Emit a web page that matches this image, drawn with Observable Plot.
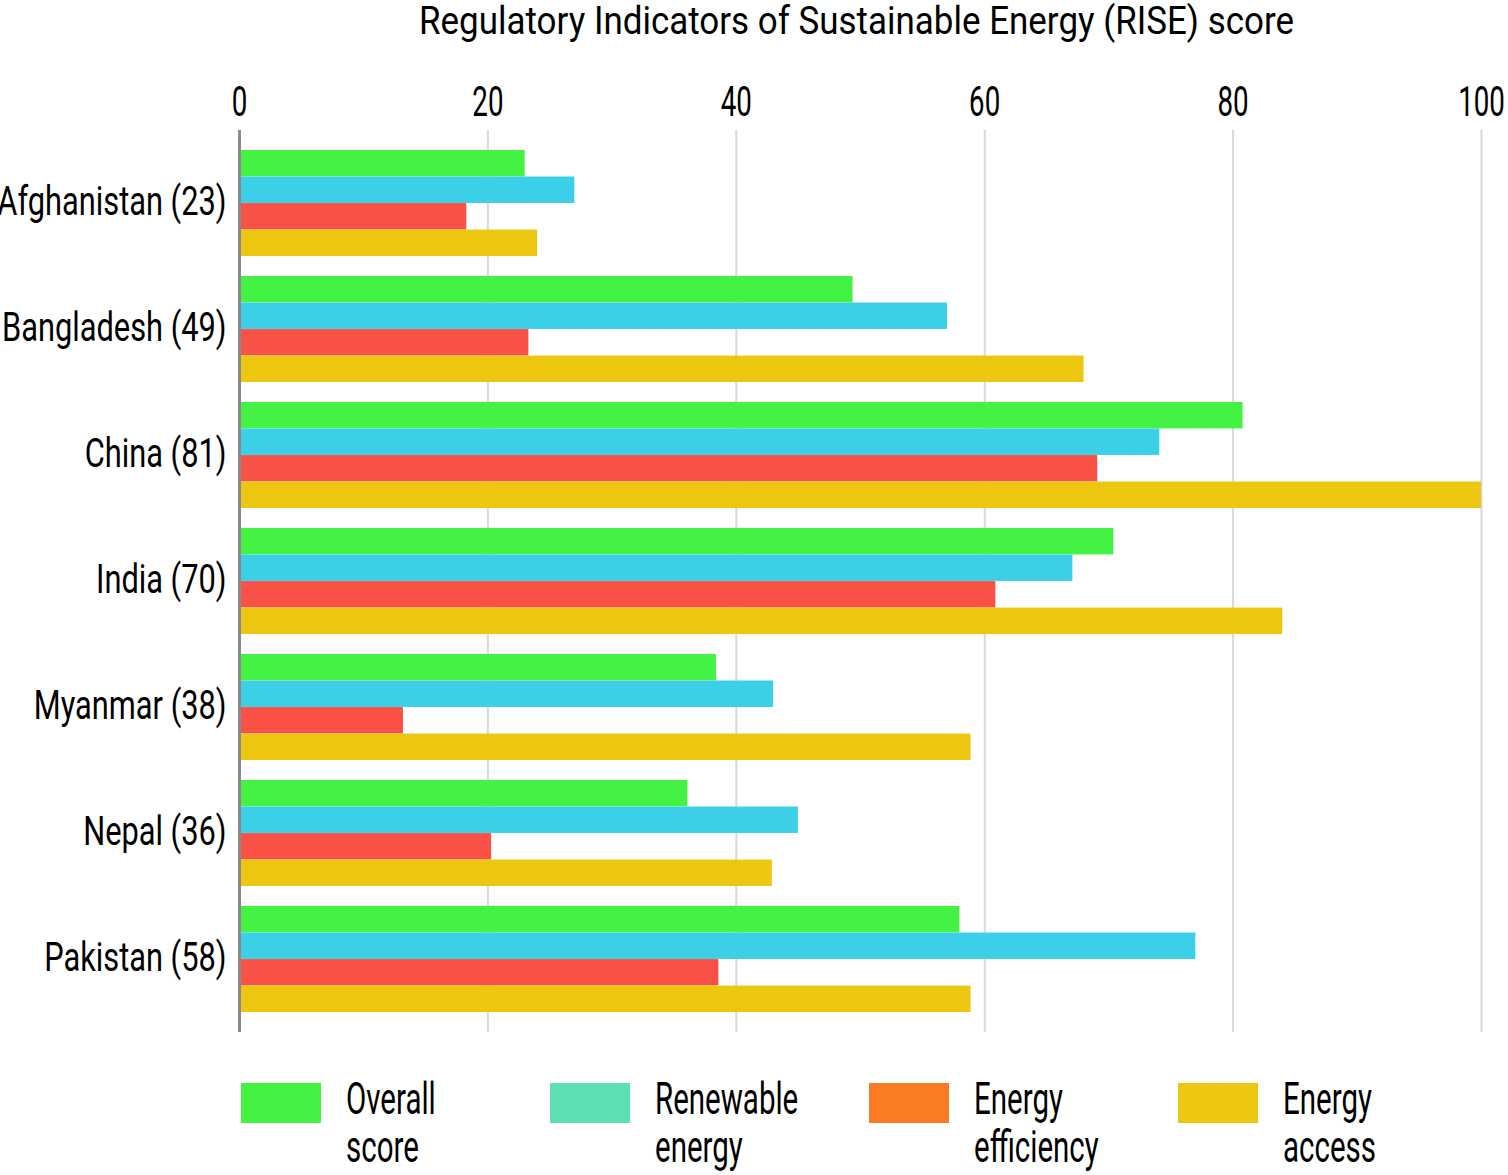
<!DOCTYPE html>
<html>
<head>
<meta charset="utf-8">
<script src="https://cdn.jsdelivr.net/npm/d3@7"></script>
<script src="https://cdn.jsdelivr.net/npm/@observablehq/plot@0.6"></script>
<style>
  body { margin: 0; background: #fff; font-family: Roboto, "Liberation Sans", sans-serif; }
  #chart { position: relative; width: 1508px; height: 1175px; }
  .legend-item { position: absolute; top: 1083px; }
  .sw { position: absolute; left: 0; top: 0; width: 80px; height: 40px; }
  .lt { position: absolute; left: 105px; top: -8px; font-size: 44px; line-height: 48px; color: #000; white-space: nowrap; transform: scaleX(0.67); transform-origin: 0 0; }
</style>
</head>
<body>
<div id="chart"></div>
<script>
const countries = ["Afghanistan", "Bangladesh", "China", "India", "Myanmar", "Nepal", "Pakistan"];
const countryLabels = ["Afghanistan (23)", "Bangladesh (49)", "China (81)", "India (70)", "Myanmar (38)", "Nepal (36)", "Pakistan (58)"];
const overall    = [23.0, 49.4, 80.8, 70.4, 38.4, 36.1, 58.0];
const renewable  = [27.0, 57.0, 74.1, 67.1, 43.0, 45.0, 77.0];
const efficiency = [18.3, 23.3, 69.1, 60.9, 13.2, 20.3, 38.6];
const access     = [24.0, 68.0, 100.0, 84.0, 58.9, 42.9, 58.9];
const seriesNames = ["Overall score", "Renewable energy", "Energy efficiency", "Energy access"];
const legendLines = [["Overall", "score"], ["Renewable", "energy"], ["Energy", "efficiency"], ["Energy", "access"]];
const barColors = ["#44f244", "#3ccfe8", "#f95145", "#ecc60f"];
const legendColors = ["#44f244", "#5ddfb5", "#f97b22", "#ecc60f"];
const xTicks = [0, 20, 40, 60, 80, 100];
const title = "Regulatory Indicators of Sustainable Energy (RISE) score";

const seriesValues = [overall, renewable, efficiency, access];
const rows = [];
seriesNames.forEach((s, si) => countries.forEach((c, ci) => rows.push({country: c, series: s, si, value: seriesValues[si][ci]})));

const W = 1508, H = 1050, mTop = 130, mBottom = 18;
const pIn = 0.16, pOut = 0.15;
const step = (H - mTop - mBottom) / (countries.length - pIn + 2 * pOut);
const bw = step * (1 - pIn);
const sub = bw / 4;

const marks = [
  Plot.gridX(xTicks, {stroke: "#d9d9d9", strokeOpacity: 1, strokeWidth: 2}),
];
seriesNames.forEach((s, si) => {
  marks.push(Plot.barX(rows.filter(d => d.si === si), {
    x: "value", y: "country", fill: barColors[si],
    insetTop: si * sub, insetBottom: (3 - si) * sub
  }));
});
marks.push(Plot.ruleX([0], {stroke: "#8a8a8a", strokeWidth: 3}));
marks.push(Plot.axisX({anchor: "top", ticks: xTicks, tickSize: 0, tickPadding: 15, fontSize: 42, label: null}));
marks.push(Plot.axisY({anchor: "left", tickSize: 0, tickPadding: 13, fontSize: 40, dy: -1, label: null,
  tickFormat: d => countryLabels[countries.indexOf(d)]}));
marks.push(Plot.text([title], {frameAnchor: "top", lineAnchor: "middle", dx: -4, dy: -109, fontSize: 38, fill: "#000"}));

const plot = Plot.plot({
  width: W, height: H,
  marginTop: mTop, marginBottom: mBottom, marginLeft: 239, marginRight: 27,
  style: {fontFamily: 'Roboto, "Liberation Sans", sans-serif', color: "#000", background: "#fff", overflow: "visible"},
  x: {domain: [0, 100], axis: null},
  y: {domain: countries, paddingInner: pIn, paddingOuter: pOut, axis: null},
  marks
});
const chart = document.getElementById("chart");
chart.appendChild(plot);

// condense the typeface horizontally around each text's own anchor
function squeezeTexts(selector, s) {
  plot.querySelectorAll(selector).forEach(t => {
    const g = document.createElementNS("http://www.w3.org/2000/svg", "g");
    const tr = t.getAttribute("transform");
    if (tr) { g.setAttribute("transform", tr); t.removeAttribute("transform"); }
    t.parentNode.insertBefore(g, t);
    g.appendChild(t);
    const x = parseFloat(t.getAttribute("x")) || 0;
    t.setAttribute("transform", `translate(${x},0) scale(${s},1) translate(${-x},0)`);
  });
}
squeezeTexts('g[aria-label="x-axis tick label"] text', 0.66);
squeezeTexts('g[aria-label="y-axis tick label"] text', 0.77);
squeezeTexts('g[aria-label="text"] text', 0.92);

const legendX = [241, 550, 869, 1178];
seriesNames.forEach((s, i) => {
  const item = document.createElement("div");
  item.className = "legend-item";
  item.style.left = legendX[i] + "px";
  const sw = document.createElement("div");
  sw.className = "sw";
  sw.style.background = legendColors[i];
  const lt = document.createElement("div");
  lt.className = "lt";
  lt.innerHTML = legendLines[i].join("<br>");
  item.appendChild(sw); item.appendChild(lt);
  chart.appendChild(item);
});
</script>
</body>
</html>
